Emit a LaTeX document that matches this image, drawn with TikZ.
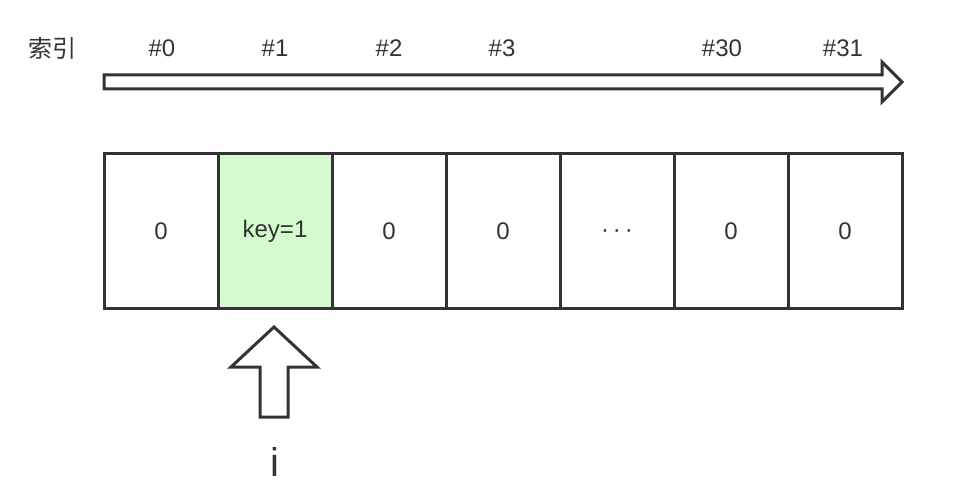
\documentclass[tikz,border=0pt]{standalone}
\usepackage{fontspec}
\setmainfont{Liberation Sans}
\newfontfamily\cjk{Noto Sans CJK SC}
\definecolor{ln}{HTML}{333333}
\definecolor{keyfill}{HTML}{D6FAD0}
\begin{document}
\begin{tikzpicture}[x=1pt,y=-1pt,
  cell/.style={draw=ln,line width=3pt,outer sep=0pt,minimum width=114pt,minimum height=154pt,inner sep=0pt,anchor=north west,font=\fontsize{24}{28}\selectfont,text=ln},
  idx/.style={font=\fontsize{24}{28}\selectfont,text=ln},
  bigarrow/.style={draw=ln,line width=3pt,line join=miter,fill=white}]
\useasboundingbox (0,0) rectangle (968,502);
% index labels
\node[idx] (lbl) at (52,48) {\cjk 索引};
\node[idx] (i0) at (162,48) {\#0};
\node[idx] (i1) at (275,48) {\#1};
\node[idx] (i2) at (389,48) {\#2};
\node[idx] (i3) at (502,48) {\#3};
\node[idx] (i30) at (722,48) {\#30};
\node[idx] (i31) at (843,48) {\#31};
% top arrow
\draw[bigarrow] (104,75) -- (882,75) -- (882,62) -- (902,82) -- (882,102) -- (882,89) -- (104,89) -- cycle;
% cells
\node[cell] (c0) at (104,154) {0};
\node[cell,fill=keyfill] (c1) at (218,154) {key=1};
\node[cell] (c2) at (332,154) {0};
\node[cell] (c3) at (446,154) {0};
\node[cell] (c4) at (560,154) {\smash{\raisebox{-7pt}{·\,·\,·}}};
\node[cell] (c5) at (674,154) {0};
\node[cell] (c6) at (788,154) {0};
% up arrow
\draw[bigarrow] (274,327) -- (317,367) -- (288,367) -- (288,417) -- (260,417) -- (260,367) -- (231,367) -- cycle;
\node[font=\fontsize{40}{46}\selectfont,text=ln] (iv) at (275,462) {i};
\end{tikzpicture}
\end{document}
